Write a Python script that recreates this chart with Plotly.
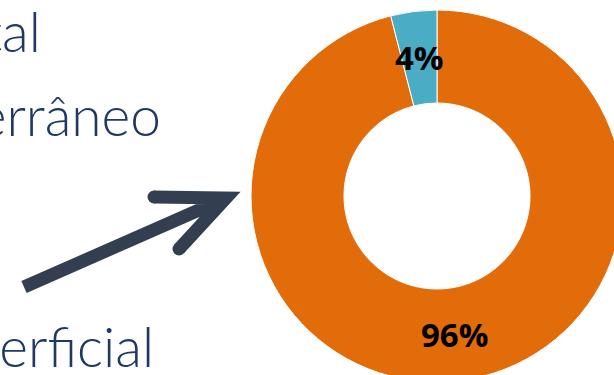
import math
import plotly.graph_objects as go

# Data
labels = ["Superficial", "Subterrâneo"]
values = [96, 4]
colors = ["#E36C0A", "#4BACC6"]
side_words = ["Total", "Subterrâneo", "Superficial"]

W, H = 640, 400
cx, cy, r = 437, 196, 186
hole = 0.5

fig = go.Figure()
fig.add_trace(go.Pie(
    labels=labels, values=values, sort=False, direction="clockwise", rotation=0,
    hole=hole,
    marker=dict(colors=colors, line=dict(color="white", width=1)),
    textinfo="none",
    domain=dict(x=[(cx - r) / W, (cx + r) / W], y=[1 - (cy + r) / H, 1 - (cy - r) / H]),
    showlegend=False, hoverinfo="skip",
))

# hidden pixel axes for decoration
fig.update_xaxes(range=[0, W], visible=False, fixedrange=True)
fig.update_yaxes(range=[H, 0], visible=False, fixedrange=True)

# percentage labels placed at the middle of each slice's ring
total = sum(values)
cum = 0
rm = r * (1 + hole) / 2
for v in values:
    mid = (cum + v / 2) / total * 2 * math.pi
    cum += v
    fig.add_annotation(x=cx + rm * math.sin(mid), y=cy - rm * math.cos(mid),
                       xref="x", yref="y", text=f"{round(v / total * 100)}%",
                       showarrow=False, xanchor="center", yanchor="middle",
                       font=dict(family="Open Sans", size=33, color="black", weight="bold"))

# Side words (cut off at left)
word_pos = [(43, 53), (163, 137), (156, 368)]
for w, (x, yb) in zip(side_words, word_pos):
    fig.add_annotation(x=x, y=yb, xref="x", yref="y", text=w, showarrow=False,
                       xanchor="right", yanchor="bottom", yshift=-13,
                       font=dict(family="Lato", size=55, color="#203864", weight=300))

# Arrow
arrow_col = "#333F50"
fig.add_shape(type="path",
              path="M 24 287 L 224 199 M 154 197 L 226 198 L 179 249",
              line=dict(color=arrow_col, width=13), xref="x", yref="y")
for (ex, ey) in [(154, 197), (179, 249)]:
    fig.add_shape(type="circle", x0=ex - 6.5, x1=ex + 6.5, y0=ey - 6.5, y1=ey + 6.5,
                  fillcolor=arrow_col, line=dict(width=0), xref="x", yref="y")

fig.update_layout(
    width=W, height=H, margin=dict(l=0, r=0, t=0, b=0),
    paper_bgcolor="white", plot_bgcolor="white",
)

fig.write_html("out.html", post_script="document.body.style.margin='0';document.body.style.overflow='hidden';document.documentElement.style.overflow='hidden';")
